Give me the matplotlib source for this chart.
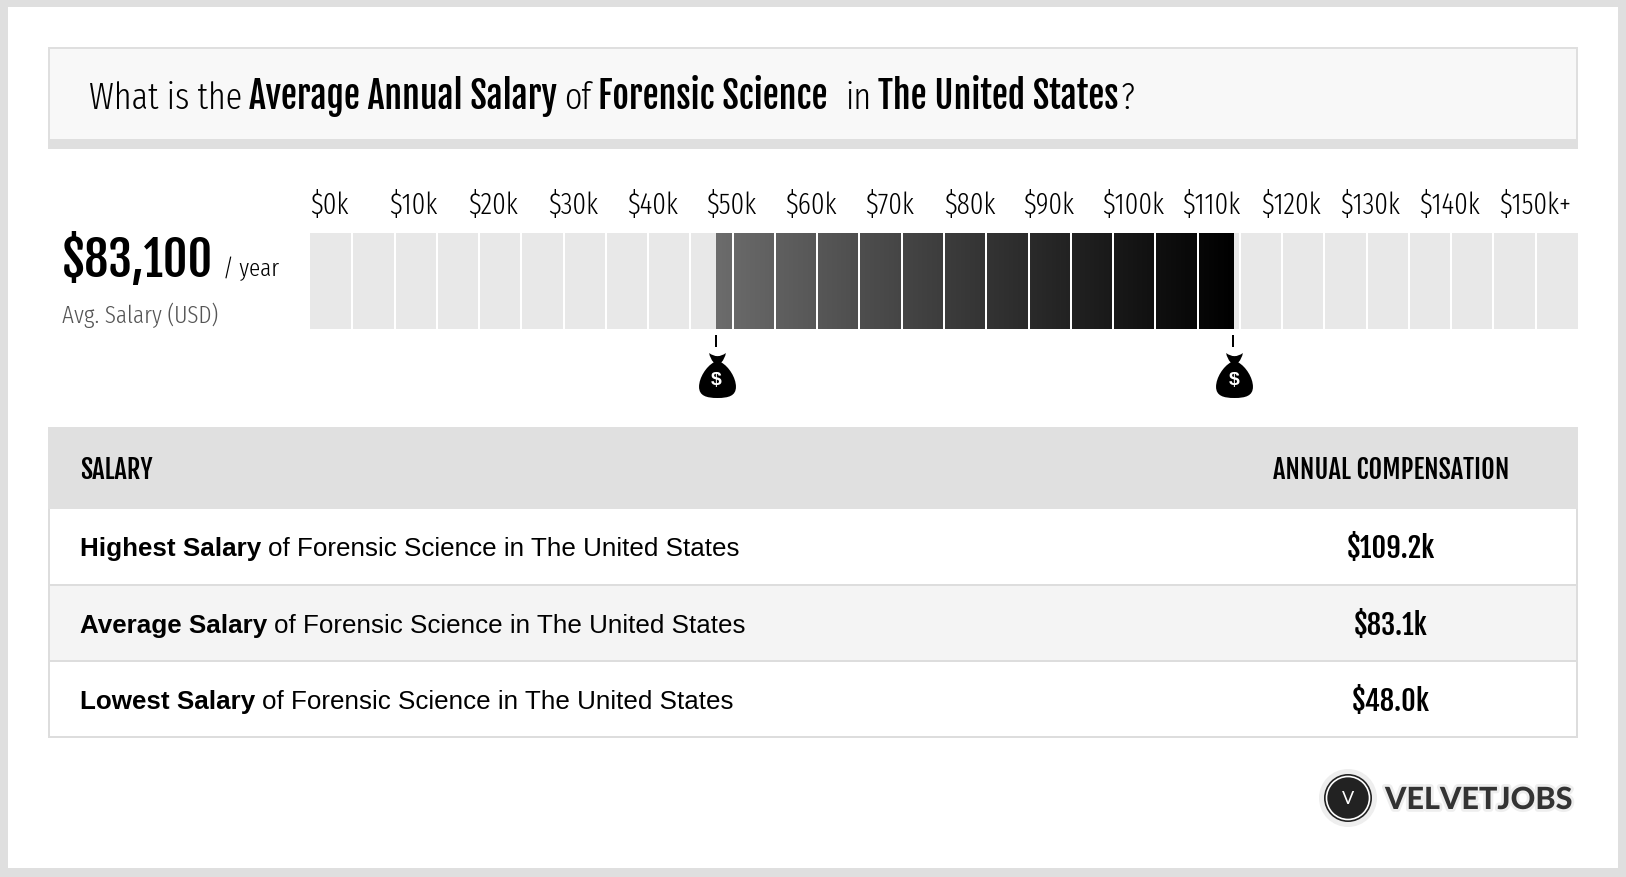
import numpy as np
import matplotlib
matplotlib.use("Agg")
import matplotlib.pyplot as plt
from matplotlib.patches import Rectangle, Circle
from matplotlib.path import Path
from matplotlib.colors import LinearSegmentedColormap
from matplotlib.transforms import blended_transform_factory
import matplotlib.patheffects as pe

# data, in thousands of USD
axis_labels = ["$0k", "$10k", "$20k", "$30k", "$40k", "$50k", "$60k", "$70k", "$80k",
               "$90k", "$100k", "$110k", "$120k", "$130k", "$140k", "$150k+"]
salary_low = 48.0
salary_high = 109.2
axis_max = 150
cell_size = 5
row_names = ["Highest Salary", "Average Salary", "Lowest Salary"]
row_values = ["$109.2k", "$83.1k", "$48.0k"]
avg_text = "$83,100"

LIGHT = ["Fira Sans Extra Condensed", "Pathway Gothic One", "Oswald", "Liberation Sans", "DejaVu Sans"]
HEAVY = ["Fjalla One", "Oswald", "Liberation Sans", "DejaVu Sans"]
SANS = ["Liberation Sans", "DejaVu Sans"]
LOGO = ["Lato", "DejaVu Sans"]

W, H = 1626, 878
fig = plt.figure(figsize=(W / 100, H / 100), dpi=100, facecolor="#dfdfdf")
ax = fig.add_axes([0, 0, 1, 1])
ax.set_xlim(0, W)
ax.set_ylim(H, 0)
ax.axis("off")
renderer = fig.canvas.get_renderer()


def box(x0, y0, x1, y1, color, **kw):
    ax.add_patch(Rectangle((x0, y0), x1 - x0, y1 - y0, facecolor=color, edgecolor="none", **kw))


def title_part(x, text, heavy):
    ax.text(x, 109, text, fontsize=25.8 if heavy else 26.5, family=HEAVY if heavy else LIGHT,
            fontweight="normal" if heavy else 300, va="baseline", ha="left")


def runs(x, y, parts, px, gap):
    # table rows: bold name, then the rest on the same baseline
    for text, bold in parts:
        t = ax.text(x, y, text, fontsize=px * 0.72, family=SANS,
                    fontweight="bold" if bold else "normal", va="baseline", ha="left")
        x += t.get_window_extent(renderer).width + gap


# page and title box
box(8, 8, 1618, 869, "white")
box(48, 48, 1578, 150, "#dfdfdf")
box(50, 50, 1576, 140, "#f8f8f8")
title_part(89, "What is the", False)
title_part(249, "Average Annual Salary", True)
title_part(564, "of", False)
title_part(598, "Forensic Science", True)
title_part(845, "in", False)
title_part(878, "The United States", True)
title_part(1121, "?", False)

# scale labels
for i, label in enumerate(axis_labels):
    ax.text(310 + i * 1268 / len(axis_labels), 214, label, fontsize=21, family=LIGHT,
            fontweight=300, va="baseline")

# left summary
ax.text(62, 277, avg_text, fontsize=34.5, family=HEAVY, va="baseline")
ax.text(223, 276, "/ year", fontsize=18, family=LIGHT, fontweight=300, va="baseline")
ax.text(62, 323, "Avg. Salary (USD)", fontsize=18, family=LIGHT, fontweight=300, color="#555555", va="baseline")

# range bar
ax_bar = fig.add_axes([310 / W, 1 - 330 / H, 1268 / W, 96 / H])
ax_bar.set_xlim(0, axis_max)
ax_bar.set_ylim(0, 1)
ax_bar.axis("off")
ax_bar.axvspan(0, axis_max, color="#e8e8e8", lw=0)
ramp = LinearSegmentedColormap.from_list("ramp", ["#6c6c6c", "#000000"])
ax_bar.imshow(np.linspace(0, 1, 256)[None, :], cmap=ramp, aspect="auto",
              extent=[salary_low, salary_high, 0, 1], zorder=2)
ax_bar.set_xlim(0, axis_max)
ax_bar.set_ylim(0, 1)
for edge in np.arange(cell_size, axis_max, cell_size):
    ax_bar.axvline(edge, color="white", lw=1.44, zorder=3)

# money bags under both ends of the range
bag = Path(
    [(-0.37, 1.0), (-0.2, 0.86), (0, 0.86), (0.2, 0.86), (0.37, 1.0),
     (0.34, 0.76), (0.17, 0.58),
     (0.5, 0.4), (0.82, -0.1), (0.82, -0.5),
     (0.82, -0.9), (0.5, -1.0), (0, -1.0),
     (-0.5, -1.0), (-0.82, -0.9), (-0.82, -0.5),
     (-0.82, -0.1), (-0.5, 0.4), (-0.17, 0.58),
     (-0.34, 0.76), (-0.37, 1.0), (-0.37, 1.0)],
    [Path.MOVETO, Path.CURVE3, Path.CURVE3, Path.CURVE3, Path.CURVE3,
     Path.CURVE3, Path.CURVE3,
     Path.CURVE4, Path.CURVE4, Path.CURVE4,
     Path.CURVE4, Path.CURVE4, Path.CURVE4,
     Path.CURVE4, Path.CURVE4, Path.CURVE4,
     Path.CURVE4, Path.CURVE4, Path.CURVE4,
     Path.CURVE3, Path.CURVE3, Path.CLOSEPOLY])
mix = blended_transform_factory(ax_bar.transData, ax.transData)
for v in [salary_low, salary_high]:
    ax_bar.plot([v, v], [336, 348], color="black", lw=1.44, solid_capstyle="butt", transform=mix, clip_on=False)
    ax_bar.plot([v + 0.1], [375.5], marker=bag, ms=32.4, color="black", mew=0, transform=mix, clip_on=False)
    ax_bar.text(v + 0.1, 381, "$", color="white", fontsize=14, fontweight="bold", family=SANS,
                ha="center", va="center", transform=mix, clip_on=False)

# table
row_tops = [510, 587, 663]
row_bottoms = [585, 661, 737]
box(48, 428, 1578, 510, "#e0e0e0")
box(48, 510, 1578, 739, "#dddddd")
for i in range(3):
    box(50, row_tops[i], 1576, row_bottoms[i], "#f4f4f4" if i == 1 else "white")
ax.text(80, 479, "SALARY", fontsize=19, family=HEAVY, va="baseline")
ax.text(1391, 479, "ANNUAL COMPENSATION", fontsize=19, family=HEAVY, ha="center", va="baseline")
for i in range(3):
    base = row_tops[i] + 46
    runs(80, base, [(row_names[i], True), ("of Forensic Science in The United States", False)], 26, 7)
    ax.text(1391, base + 2, row_values[i], fontsize=20.5, family=HEAVY, ha="center", va="baseline")

# logo
ax.add_patch(Circle((1348, 799), 29, color="#eeeeee", lw=0))
ax.add_patch(Circle((1348, 799), 24, color="#222222", lw=0))
ax.add_patch(Circle((1348, 799), 21.5, fill=False, ec="white", lw=1.2))
ax.text(1348, 799, "V", color="white", fontsize=13, family=LOGO, ha="center", va="center")
ax.text(1385, 810, "VELVETJOBS", color="#333333", fontsize=22, fontweight=900,
        family=LOGO, va="baseline",
        path_effects=[pe.withStroke(linewidth=4, foreground="#eeeeee")])

fig.savefig("out.png", dpi=100, facecolor=fig.get_facecolor())
